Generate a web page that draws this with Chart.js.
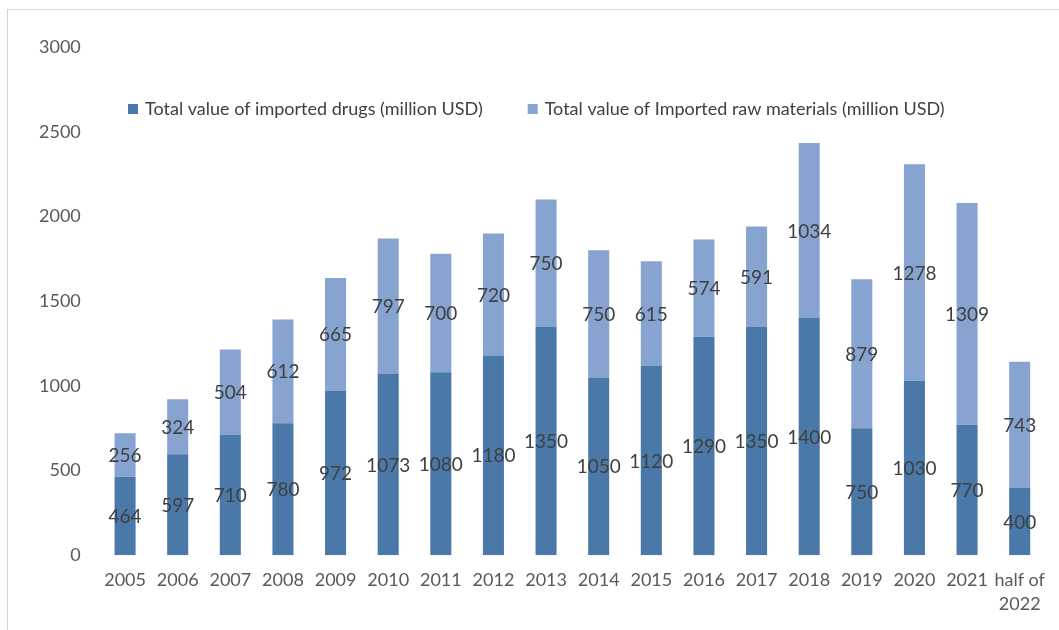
<!DOCTYPE html>
<html>
<head>
<meta charset="utf-8">
<script src="https://cdn.jsdelivr.net/npm/chart.js@4"></script>
<style>
  html, body { margin: 0; padding: 0; background: #fff; overflow: hidden; }
  #frame { position: absolute; left: 7px; top: 9px; width: 1100px; height: 700px; border: 1px solid #d4d4d4; }
  #wrap { position: absolute; left: 0; top: 0; width: 1059px; height: 630px; }
</style>
</head>
<body>
<div id="frame"></div>
<div id="wrap"><canvas id="c" width="1059" height="630"></canvas></div>
<script>
const years = ['2005','2006','2007','2008','2009','2010','2011','2012','2013','2014','2015','2016','2017','2018','2019','2020','2021',['half of','2022']];
const drugs = [464,597,710,780,972,1073,1080,1180,1350,1050,1120,1290,1350,1400,750,1030,770,400];
const rawMaterials = [256,324,504,612,665,797,700,720,750,750,615,574,591,1034,879,1278,1309,743];
const yTicks = [0,500,1000,1500,2000,2500,3000];

const FONT = 'Lato, "Open Sans", sans-serif';
const darkBlue = '#4a78a9';
const lightBlue = '#87a4d1';

// writes the value in the middle of each bar segment
const barLabels = {
  id: 'barLabels',
  afterDatasetsDraw(chart) {
    const ctx = chart.ctx;
    ctx.save();
    ctx.font = '19px ' + FONT;
    ctx.fillStyle = '#404040';
    ctx.textAlign = 'center';
    ctx.textBaseline = 'middle';
    chart.data.datasets.forEach((ds, i) => {
      const meta = chart.getDatasetMeta(i);
      meta.data.forEach((bar, j) => {
        const p = bar.getProps(['x','y','base'], true);
        ctx.fillText(String(ds.data[j]), p.x, (p.y + p.base) / 2 + 1);
      });
    });
    ctx.restore();
  }
};

// legend sits inside the plot, like the original
const innerLegend = {
  id: 'innerLegend',
  afterDraw(chart) {
    const ctx = chart.ctx;
    ctx.save();
    ctx.font = '18px ' + FONT;
    ctx.textBaseline = 'middle';
    let x = 128;
    const y = 109;
    chart.data.datasets.forEach(ds => {
      ctx.fillStyle = ds.backgroundColor;
      ctx.fillRect(x, y - 5, 10, 10);
      ctx.fillStyle = '#404040';
      ctx.fillText(ds.label, x + 17, y);
      x += 17 + ctx.measureText(ds.label).width + 45;
    });
    ctx.restore();
  }
};

new Chart(document.getElementById('c'), {
  type: 'bar',
  data: {
    labels: years,
    datasets: [
      { label: 'Total value of imported drugs (million USD)', data: drugs, backgroundColor: darkBlue },
      { label: 'Total value of Imported raw materials (million USD)', data: rawMaterials, backgroundColor: lightBlue }
    ]
  },
  options: {
    responsive: false,
    animation: false,
    devicePixelRatio: 1,
    layout: { padding: { left: 21, right: 13, top: 47, bottom: 1 } },
    datasets: { bar: { categoryPercentage: 0.8, barPercentage: 0.5 } },
    plugins: { legend: { display: false }, tooltip: { enabled: false } },
    scales: {
      x: {
        stacked: true,
        grid: { display: false, drawTicks: false },
        border: { display: false },
        ticks: { color: '#595959', font: { family: FONT, size: 18, lineHeight: 1.38 }, padding: 12, maxRotation: 0, autoSkip: false }
      },
      y: {
        stacked: true,
        min: 0, max: 3000,
        afterBuildTicks(axis) { axis.ticks = yTicks.map(v => ({ value: v })); },
        grid: { display: false, drawTicks: false },
        border: { display: false },
        ticks: { color: '#595959', font: { family: FONT, size: 18 }, padding: 18, callback: v => String(v) }
      }
    }
  },
  plugins: [barLabels, innerLegend]
});
</script>
</body>
</html>
